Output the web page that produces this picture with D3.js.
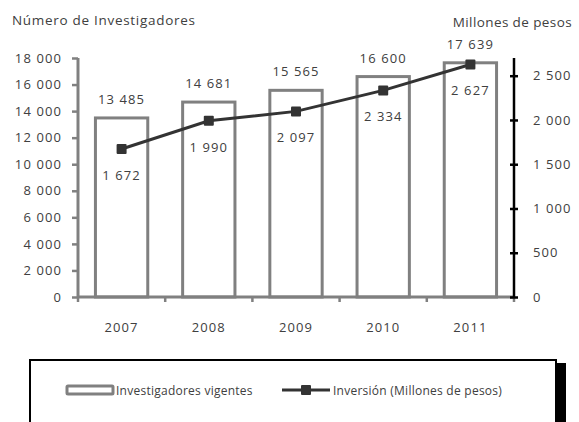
<!DOCTYPE html>
<html><head><meta charset="utf-8">
<script src="https://cdn.jsdelivr.net/npm/d3@7"></script>
<style>body{margin:0;background:#fff}svg{display:block}text{font-family:"Open Sans",sans-serif;fill:#404040}</style>
</head><body><svg id="c" width="579" height="422"></svg>
<script>
const years = ["2007","2008","2009","2010","2011"];
const investigadores = [13485,14681,15565,16600,17639];
const inversion = [1672,1990,2097,2334,2627];
const leftTicks = [0,2000,4000,6000,8000,10000,12000,14000,16000,18000];
const rightTicks = [0,500,1000,1500,2000,2500];

const svg = d3.select("#c");
const fmt = v => d3.format(",")(v).replace(/,/g," ");
const x0 = 78, x1 = 514, yTop = 58, yBot = 297;
const x = d3.scaleBand().domain(years).range([x0,x1]).paddingInner(0).paddingOuter(0);
const yL = d3.scaleLinear().domain([0,18000]).range([yBot,yTop]);
const yR = d3.scaleLinear().domain([0,2700]).range([yBot,yTop]);
const gray = "#808080", dark = "#333333";
const fs = "13px", ls = "1.1px";

// bars
const bw = x.bandwidth()*0.6;
svg.selectAll("rect.bar").data(years).join("rect")
  .attr("x", d=>x(d)+x.bandwidth()/2-bw/2)
  .attr("y", (d,i)=>yL(investigadores[i]))
  .attr("width", bw)
  .attr("height", (d,i)=>yBot-yL(investigadores[i]))
  .attr("fill","#fff").attr("stroke",gray).attr("stroke-width",3);

// left axis
const gL = svg.append("g").attr("transform",`translate(${x0},0)`)
  .call(d3.axisLeft(yL).tickValues(leftTicks).tickFormat(fmt).tickSize(6).tickPadding(10));
gL.select(".domain").attr("stroke",gray).attr("stroke-width",3).attr("d",`M0,${yTop}V${yBot}`);
gL.selectAll(".tick line").attr("stroke",gray).attr("stroke-width",2.5);
gL.selectAll(".tick text").style("font-size",fs).style("letter-spacing",ls).attr("fill","#404040");

// bottom axis
const bounds = years.map(d=>x(d)).concat([x1]);
svg.append("line").attr("x1",x0).attr("x2",x1).attr("y1",yBot).attr("y2",yBot)
  .attr("stroke",gray).attr("stroke-width",3);
svg.selectAll("line.bt").data(bounds).join("line").attr("class","bt")
  .attr("x1",d=>d).attr("x2",d=>d).attr("y1",yBot).attr("y2",yBot+5)
  .attr("stroke",gray).attr("stroke-width",2.5);
svg.selectAll("text.yr").data(years).join("text").attr("class","yr")
  .attr("x",d=>x(d)+x.bandwidth()/2).attr("y",332)
  .attr("text-anchor","middle").style("font-size",fs).style("letter-spacing",ls).text(d=>d);

// right axis
const gR = svg.append("g").attr("transform",`translate(${x1},0)`)
  .call(d3.axisRight(yR).tickValues(rightTicks).tickFormat(fmt).tickSize(4).tickPadding(15));
gR.select(".domain").attr("stroke","#000").attr("stroke-width",2.5).attr("d",`M0,${yTop}V${yBot}`);
gR.selectAll(".tick line").attr("stroke","#000").attr("stroke-width",2.5).attr("x1",-4);
gR.selectAll(".tick text").style("font-size",fs).style("letter-spacing",ls).attr("fill","#404040");

// line
const cx = d=>x(d)+x.bandwidth()/2;
const line = d3.line().x((d,i)=>cx(years[i])).y(d=>yR(d));
svg.append("path").datum(inversion).attr("d",line).attr("fill","none")
  .attr("stroke",dark).attr("stroke-width",3);
svg.selectAll("rect.mk").data(inversion).join("rect").attr("class","mk")
  .attr("x",(d,i)=>cx(years[i])-5).attr("y",d=>yR(d)-5).attr("width",10).attr("height",10)
  .attr("rx",1).attr("fill",dark);

// labels
svg.selectAll("text.bl").data(investigadores).join("text").attr("class","bl")
  .attr("x",(d,i)=>cx(years[i])).attr("y",d=>yL(d)-14)
  .attr("text-anchor","middle").style("font-size",fs).style("letter-spacing",ls).text(fmt);
svg.selectAll("text.ll").data(inversion).join("text").attr("class","ll")
  .attr("x",(d,i)=>cx(years[i])).attr("y",d=>yR(d)+31)
  .attr("text-anchor","middle").style("font-size",fs).style("letter-spacing",ls).text(fmt);

// titles
svg.append("text").attr("x",12).attr("y",25).style("font-size","13.5px").style("letter-spacing","0.7px").text("Número de Investigadores");
svg.append("text").attr("x",572).attr("y",27).attr("text-anchor","end").style("font-size","13.5px").style("letter-spacing","0.4px").text("Millones de pesos");

// legend
svg.append("rect").attr("x",557).attr("y",363).attr("width",9).attr("height",62).attr("fill","#000");
svg.append("rect").attr("x",30).attr("y",360).attr("width",526).attr("height",64)
  .attr("fill","#fff").attr("stroke","#000").attr("stroke-width",2);
svg.append("rect").attr("x",67).attr("y",386).attr("width",46).attr("height",8)
  .attr("fill","#fff").attr("stroke",gray).attr("stroke-width",3).attr("rx",1);
svg.append("text").attr("x",116).attr("y",394.5).style("font-size","12px").style("letter-spacing","0.25px").text("Investigadores vigentes");
svg.append("line").attr("x1",282).attr("x2",330).attr("y1",390).attr("y2",390).attr("stroke",dark).attr("stroke-width",3);
svg.append("rect").attr("x",301).attr("y",385).attr("width",10).attr("height",10).attr("rx",1).attr("fill",dark);
svg.append("text").attr("x",333).attr("y",394.5).style("font-size","12px").style("letter-spacing","0.25px").text("Inversión (Millones de pesos)");
</script></body></html>
